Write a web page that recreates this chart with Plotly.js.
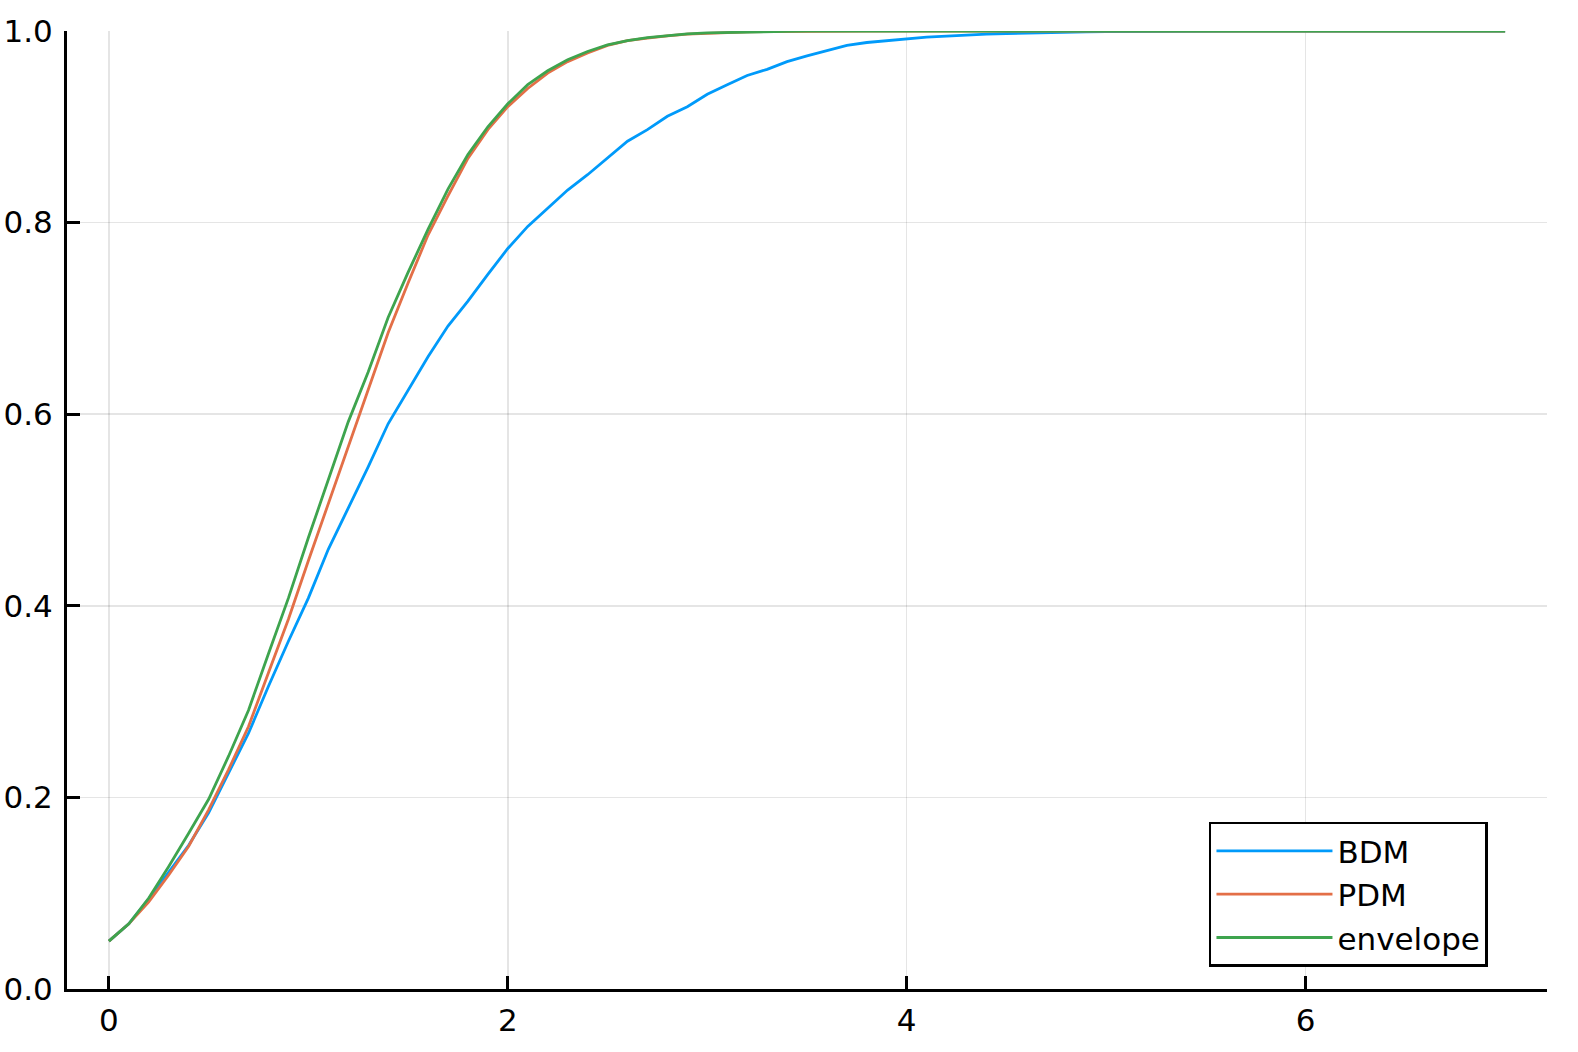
<!DOCTYPE html>
<html>
<head>
<meta charset="utf-8">
<script src="https://cdn.plot.ly/plotly-3.0.1.min.js"></script>
<style>html,body{margin:0;padding:0;background:#fff;}#chart{width:1578px;height:1052px;}</style>
</head>
<body>
<div id="chart"></div>
<script>
// x grid: 0.0 .. 7.0 step 0.1
const xValues = [0.0,0.1,0.2,0.3,0.4,0.5,0.6,0.7,0.8,0.9,1.0,1.1,1.2,1.3,1.4,1.5,1.6,1.7,1.8,1.9,2.0,2.1,2.2,2.3,2.4,2.5,2.6,2.7,2.8,2.9,3.0,3.1,3.2,3.3,3.4,3.5,3.6,3.7,3.8,3.9,4.0,4.1,4.2,4.3,4.4,4.5,4.6,4.7,4.8,4.9,5.0,5.1,5.2,5.3,5.4,5.5,5.6,5.7,5.8,5.9,6.0,6.1,6.2,6.3,6.4,6.5,6.6,6.7,6.8,6.9,7.0];

const bdm = [0.050,0.068,0.094,0.1225,0.150,0.184,0.225,0.267,0.316,0.363,
  0.408,0.459,0.502,0.545,0.590,0.625,0.660,0.692,0.718,0.746,
  0.773,0.796,0.815,0.834,0.850,0.867,0.885,0.897,0.911,0.921,
  0.934,0.944,0.9536,0.960,0.968,0.974,0.9797,0.985,0.988,0.990,
  0.9918,0.9936,0.9947,0.996,0.9967,0.9974,0.998,0.9985,0.9988,0.999,
  0.9993,0.9995,0.9997,0.9998,0.9998,1.0,1.0,1.0,1.0,1.0,
  1.0,1.0,1.0,1.0,1.0,1.0,1.0,1.0,1.0,1.0,1.0];

const pdm = [0.050,0.068,0.091,0.119,0.149,0.187,0.229,0.274,0.330,0.386,
  0.447,0.506,0.566,0.625,0.685,0.737,0.787,0.828,0.867,0.897,
  0.921,0.940,0.956,0.968,0.977,0.985,0.990,0.9925,0.995,0.9967,
  0.9977,0.9985,0.999,0.9995,0.9997,1.0,1.0,1.0,1.0,1.0,
  1.0,1.0,1.0,1.0,1.0,1.0,1.0,1.0,1.0,1.0,
  1.0,1.0,1.0,1.0,1.0,1.0,1.0,1.0,1.0,1.0,
  1.0,1.0,1.0,1.0,1.0,1.0,1.0,1.0,1.0,1.0,1.0];

const envelope = [0.050,0.068,0.095,0.128,0.1625,0.198,0.243,0.291,0.350,0.408,
  0.471,0.532,0.592,0.644,0.701,0.748,0.793,0.835,0.871,0.900,
  0.924,0.944,0.9585,0.970,0.9786,0.9856,0.990,0.993,0.995,0.997,
  0.998,0.9986,0.999,0.9995,0.9997,1.0,1.0,1.0,1.0,1.0,
  1.0,1.0,1.0,1.0,1.0,1.0,1.0,1.0,1.0,1.0,
  1.0,1.0,1.0,1.0,1.0,1.0,1.0,1.0,1.0,1.0,
  1.0,1.0,1.0,1.0,1.0,1.0,1.0,1.0,1.0,1.0,1.0];

const seriesNames = ["BDM", "PDM", "envelope"];
const seriesColors = ["#009AFA", "#E36F47", "#3EA44E"];
const xTicks = [0, 2, 4, 6];
const yTicks = [0.0, 0.2, 0.4, 0.6, 0.8, 1.0];

const allSeries = [bdm, pdm, envelope];
const traces = allSeries.map((ys, i) => ({
  type: "scatter",
  mode: "lines",
  x: xValues,
  y: ys,
  name: seriesNames[i],
  line: {color: seriesColors[i], width: 2.8}
}));

const font = {family: "DejaVu Sans, sans-serif", size: 31, color: "#000"};

const layout = {
  width: 1578,
  height: 1052,
  paper_bgcolor: "#fff",
  plot_bgcolor: "#fff",
  margin: {l: 67, r: 31, t: 31, b: 63, pad: 0},
  font: font,
  showlegend: true,
  legend: {
    x: 0.7716, y: 0.1746, xanchor: "left", yanchor: "top",
    bgcolor: "#fff", bordercolor: "#000", borderwidth: 2.5,
    font: {family: "DejaVu Sans, sans-serif", size: 31, color: "#000"},
    itemwidth: 116,
    tracegroupgap: 0
  },
  xaxis: {
    range: [-0.21, 7.21],
    tickvals: xTicks,
    ticktext: xTicks.map(v => String(v)),
    ticks: "inside", ticklen: 13, tickwidth: 3, tickcolor: "#000",
    showline: true, linecolor: "#000", linewidth: 3,
    showgrid: true, gridcolor: "rgba(0,0,0,0.1)", gridwidth: 1.5,
    zeroline: false, mirror: false,
    tickfont: font,
    ticklabelstandoff: 2,
    automargin: false
  },
  yaxis: {
    range: [0, 1],
    tickvals: yTicks,
    ticktext: yTicks.map(v => v.toFixed(1)),
    ticks: "inside", ticklen: 13, tickwidth: 3, tickcolor: "#000",
    showline: true, linecolor: "#000", linewidth: 3,
    showgrid: true, gridcolor: "rgba(0,0,0,0.1)", gridwidth: 1.5,
    zeroline: false, mirror: false,
    tickfont: font,
    ticklabelstandoff: 5,
    automargin: false
  }
};

Plotly.newPlot("chart", traces, layout, {displayModeBar: false, staticPlot: true});
</script>
</body>
</html>
